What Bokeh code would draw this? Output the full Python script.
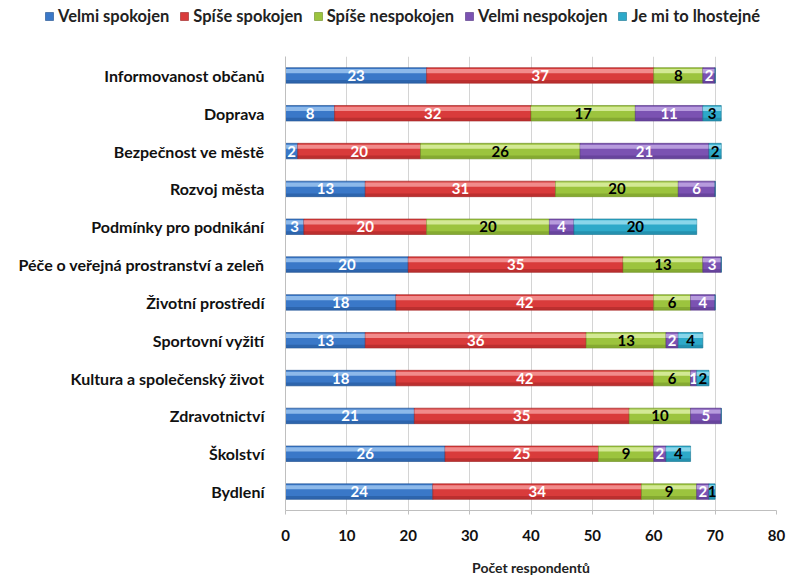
from bokeh.plotting import figure
from bokeh.layouts import column, row
from bokeh.models import ColumnDataSource, FactorRange, Legend, LegendItem, Range1d, FixedTicker
from bokeh.transform import dodge
from bokeh.core.properties import value
from bokeh.embed import file_html
from bokeh.resources import INLINE

categories = [
    "Informovanost občanů",
    "Doprava",
    "Bezpečnost ve městě",
    "Rozvoj města",
    "Podmínky pro podnikání",
    "Péče o veřejná prostranství a zeleň",
    "Životní prostředí",
    "Sportovní vyžití",
    "Kultura a společenský život",
    "Zdravotnictví",
    "Školství",
    "Bydlení",
]
series_names = ["Velmi spokojen", "Spíše spokojen", "Spíše nespokojen", "Velmi nespokojen", "Je mi to lhostejné"]
velmi_spokojen = [23, 8, 2, 13, 3, 20, 18, 13, 18, 21, 26, 24]
spise_spokojen = [37, 32, 20, 31, 20, 35, 42, 36, 42, 35, 25, 34]
spise_nespokojen = [8, 17, 26, 20, 20, 13, 6, 13, 6, 10, 9, 9]
velmi_nespokojen = [2, 11, 21, 6, 4, 3, 4, 2, 1, 5, 2, 2]
lhostejne = [0, 3, 2, 0, 20, 0, 0, 4, 2, 0, 4, 1]
x_ticks = [0, 10, 20, 30, 40, 50, 60, 70, 80]
x_title = "Počet respondentů"

series = [velmi_spokojen, spise_spokojen, spise_nespokojen, velmi_nespokojen, lhostejne]
colors = ["#3A78C8", "#D93B3B", "#9CC43E", "#7B52B2", "#2DA9C9"]
light = ["#9CC4F0", "#F59A9A", "#DDF0A4", "#C2A8E4", "#9ADEF0"]
dark = ["#1F4E8C", "#9A2222", "#6A8C22", "#523282", "#1A7490"]
text_colors = ["white", "white", "black", "white", "black"]

FONT = "Lato"
W = 786

p = figure(
    width=W, height=548,
    y_range=FactorRange(factors=list(reversed(categories))),
    x_range=Range1d(0, 80),
    output_backend="svg", toolbar_location=None,
    min_border_left=285, min_border_right=10, min_border_top=26, min_border_bottom=62,
)
p.outline_line_color = None
p.background_fill_color = "white"

lg = figure(width=W, height=30, x_range=Range1d(1000, 1001), y_range=Range1d(1000, 1001),
            output_backend="svg", toolbar_location=None, x_axis_type=None, y_axis_type=None,
            min_border_left=0, min_border_right=0, min_border_top=0, min_border_bottom=0)
lg.outline_line_color = None
lg.xgrid.grid_line_color = None
lg.ygrid.grid_line_color = None

left = [0] * len(categories)
legend_items = []
for i, (name, vals) in enumerate(zip(series_names, series)):
    right = [l + v for l, v in zip(left, vals)]
    src = ColumnDataSource(dict(cat=categories, left=left, right=right, val=vals,
                                mid=[(l + r) / 2 for l, r in zip(left, right)],
                                lab=[str(v) if v > 0 else "" for v in vals]))
    p.hbar(y="cat", left="left", right="right", height=0.41, source=src,
           fill_color=colors[i], line_color=dark[i], line_width=0.6)
    p.hbar(y=dodge("cat", 0.115, range=p.y_range), left="left", right="right", height=0.11,
           source=src, fill_color=light[i], fill_alpha=0.85, line_color=None)
    p.hbar(y=dodge("cat", -0.16, range=p.y_range), left="left", right="right", height=0.08,
           source=src, fill_color=dark[i], fill_alpha=0.45, line_color=None)
    p.text(x="mid", y="cat", text="lab", source=src, text_align="center", text_baseline="middle",
           text_color=text_colors[i], text_font=value(FONT), text_font_style="bold",
           text_font_size="15px")
    r = lg.hbar(y=[0], left=[0], right=[1], height=0.5,
                fill_color=colors[i], line_color=dark[i], line_width=0.6)
    legend_items.append(LegendItem(label=name, renderers=[r]))
    left = right

legend = Legend(items=legend_items, orientation="horizontal", location=(44, 4),
                label_text_font=FONT, label_text_font_style="bold", label_text_font_size="16.5px",
                label_text_color="#222222", glyph_width=10, glyph_height=10, spacing=10,
                label_standoff=4, border_line_color=None, padding=2, margin=0,
                background_fill_alpha=0)
lg.add_layout(legend, "center")

p.xgrid.grid_line_color = "#D4D4D4"
p.xgrid.ticker = FixedTicker(ticks=x_ticks)
p.ygrid.grid_line_color = None

p.xaxis.ticker = FixedTicker(ticks=x_ticks)
p.xaxis.axis_label = x_title
p.xaxis.axis_label_text_font = FONT
p.xaxis.axis_label_text_font_style = "bold"
p.xaxis.axis_label_text_font_size = "14px"
p.xaxis.axis_label_text_color = "#222222"
p.xaxis.axis_label_standoff = 15
p.xaxis.major_label_text_font = FONT
p.xaxis.major_label_text_font_style = "bold"
p.xaxis.major_label_text_font_size = "15px"
p.xaxis.major_label_text_color = "#111111"
p.xaxis.major_label_standoff = 15
p.xaxis.axis_line_color = "#BFBFBF"
p.xaxis.major_tick_line_color = "#BFBFBF"
p.xaxis.major_tick_out = 4
p.xaxis.major_tick_in = 0
p.xaxis.minor_tick_line_color = None

p.yaxis.major_label_text_font = FONT
p.yaxis.major_label_text_font_style = "bold"
p.yaxis.major_label_text_font_size = "16px"
p.yaxis.major_label_text_color = "#111111"
p.yaxis.major_label_standoff = 15
p.yaxis.axis_line_color = "#BFBFBF"
p.yaxis.major_tick_line_color = None
p.yaxis.minor_tick_line_color = None

layout = column(row(lg), p, spacing=0)
open("out.html", "w").write(file_html(layout, INLINE))
